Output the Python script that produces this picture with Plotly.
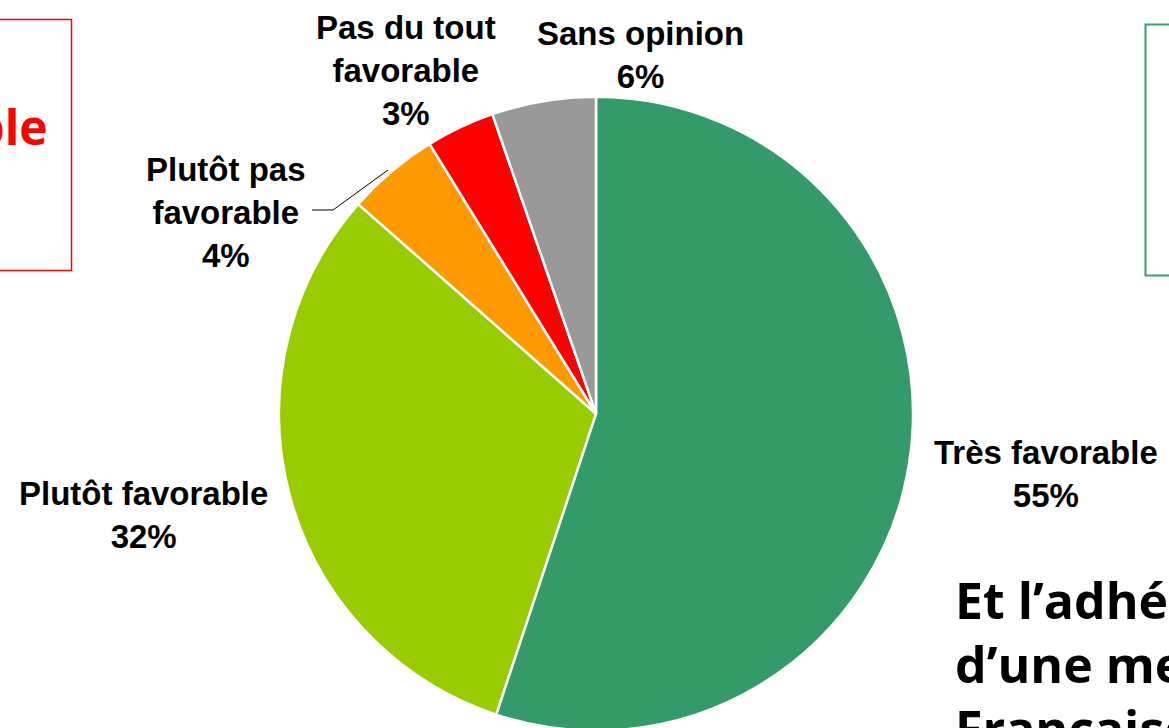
import plotly.graph_objects as go

W, H = 1169, 736  # page is photographed at 1169x728; the pie runs just past the bottom edge

# ---- data ----
categories = ["Très favorable", "Plutôt favorable", "Plutôt pas favorable",
              "Pas du tout favorable", "Sans opinion"]
values = [55.1, 31.4, 4.7, 3.5, 5.3]
pct_labels = ["55%", "32%", "4%", "3%", "6%"]
label_lines = ["Très favorable", "Plutôt favorable", "Plutôt pas<br>favorable",
               "Pas du tout<br>favorable", "Sans opinion"]
colors = ["#359A69", "#99CC00", "#FF9900", "#FF0000", "#999999"]

# label anchor positions (pixels)
label_pos = [(1046, 474), (143, 515), (226, 212), (406, 70), (640, 55)]


def px(x):
    return x / W


def py(y):
    return 1 - y / H


cx, cy, r = 596, 413.7, 317
fig = go.Figure(go.Pie(
    labels=categories,
    values=values,
    sort=False,
    direction="clockwise",
    rotation=0,
    marker=dict(colors=colors, line=dict(color="white", width=2.5)),
    textinfo="none",
    hoverinfo="label+percent",
    showlegend=False,
    domain=dict(x=[px(cx - r), px(cx + r)], y=[py(cy + r), py(cy - r)]),
))

annotations = []
for lab, pct, (x, y) in zip(label_lines, pct_labels, label_pos):
    annotations.append(dict(
        x=px(x), y=py(y), xref="paper", yref="paper",
        text=f"{lab}<br>{pct}", showarrow=False,
        xanchor="center", yanchor="middle", align="center",
        font=dict(family="Liberation Sans, Arial", size=33, color="black", weight="bold"),
    ))

# cut-off texts from the slide
annotations.append(dict(
    x=px(50), y=py(127), xref="paper", yref="paper", text="Défavorable",
    showarrow=False, xanchor="right", yanchor="middle",
    font=dict(family="Open Sans", size=48, color="#FF0000", weight="bold"),
))
for i, line in enumerate(["Et l’adhésion", "d’une mesure", "Française"]):
    annotations.append(dict(
        x=px(953), y=py(600 + 64 * i), xref="paper", yref="paper", text=line,
        showarrow=False, xanchor="left", yanchor="middle",
        font=dict(family="Open Sans", size=50, color="black", weight="bold"),
    ))

shapes = [
    dict(type="rect", xref="paper", yref="paper",
         x0=px(-10), x1=px(71.5), y0=py(270.5), y1=py(19.5),
         line=dict(color="#FF0000", width=1.5)),
    dict(type="rect", xref="paper", yref="paper",
         x0=px(1145.5), x1=px(1190), y0=py(275.5), y1=py(24.5),
         line=dict(color="#3C9E6C", width=2)),
    dict(type="path", xref="paper", yref="paper",
         path=f"M {px(312)} {py(210)} L {px(333)} {py(210)} L {px(388)} {py(170)}",
         line=dict(color="black", width=1)),
]

fig.update_layout(
    width=W, height=H,
    margin=dict(l=0, r=0, t=0, b=0),
    paper_bgcolor="white", plot_bgcolor="white",
    annotations=annotations, shapes=shapes,
)

fig.write_html("out.html",
               config={"displayModeBar": False},
               post_script="document.body.style.margin='0';document.body.style.overflow='hidden';")
